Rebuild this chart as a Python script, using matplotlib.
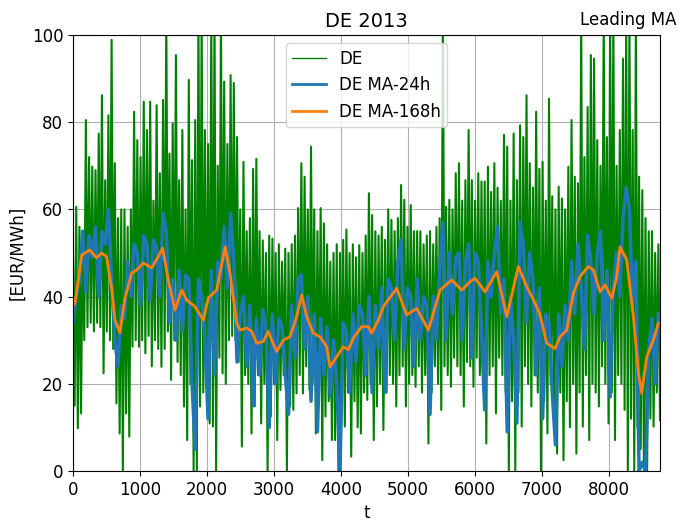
import matplotlib.pyplot as plt
import numpy as np

de_hi = [50, 60.6, 56, 55, 80.5, 72, 69.8, 69, 77.4, 86.2, 66.7, 81.6, 98.9, 70.6, 58, 60, 60, 56, 60, 82.4,
         75.9, 72, 84.7, 78.2, 84.7, 62, 83.9, 68.3, 85.1, 105, 72.8, 79.7, 95.4, 66.7, 78.2, 60, 89.7, 71.3, 80.5, 105,
         105, 78.2, 75, 105, 105, 70, 105, 89.3, 75, 90.8, 89, 76.6, 60, 70.9, 55, 58, 69.3, 71.6, 55, 52.9,
         50, 54, 53.3, 50, 52, 48, 51, 50, 52, 54, 60.3, 70.6, 67.5, 60, 74.4, 60, 55, 60.3, 56.8, 52,
         48, 50, 52, 50, 53, 55.4, 50, 52, 49, 51.8, 50, 54, 63.7, 58.7, 55, 54, 56, 53, 60, 57.6,
         55, 58, 65.6, 62.2, 56, 61, 55, 55, 55, 52, 54, 55, 52, 56, 58, 105, 60.6, 62.2, 60, 68.3,
         70.6, 62, 66.7, 78.2, 66.7, 62, 68.3, 66.4, 66.4, 69.8, 64, 70.6, 65, 62, 77.1, 74.4, 62, 77.4, 66.7, 79.3,
         76.6, 86.2, 70.6, 65, 82.4, 69.3, 70.9, 62, 85.4, 63, 60, 65.2, 62.5, 60, 69.8, 80.5, 67.5, 66, 105, 72,
         83.5, 95.4, 94.6, 75.9, 70, 105, 76.6, 105, 105, 70, 78.2, 94.6, 105, 105, 78.2, 105, 67.5, 64.4, 58, 55,
         55, 50, 52]
de_lo = [15, 9.8, 13.2, 30, 33, 34, 32, 34, 33, 22.4, 32, 30, 28, 15.5, 8.6, 0.2, 13.2, 7.9, 28.5, 30,
         28.5, 30, 27, 31, 24, 30, 28, 23.9, 28, 32, 20.9, 30, 25, 22, 14.8, 7.1, 20, 0, 0, 14.8,
         18, 22, 10.9, 10.2, 0, 26, 22.4, 20, 30, 31, 30, 25, 5.6, 22, 20, 8.6, 14.8, 22, 10.9, 20,
         0, 12.5, 20, 7.1, 18.6, 22, 0, 14.8, 14, 17.8, 22, 17.8, 24, 18.6, 20, 8.6, 18, 2.5, 12.5, 16,
         7.1, 7.1, 0, 15, 10.2, 18, 3.3, 16, 10, 8.6, 18, 16.3, 20, 7.1, 14.8, 20, 9.4, 18, 22, 20,
         14.8, 22, 24, 14.8, 20, 22, 19.3, 24, 18, 22, 6.3, 18, 24, 20, 14, 24, 22, 19.3, 26, 24,
         22, 14.8, 25, 24, 19.3, 26, 22, 20, 6.3, 22, 24, 13.2, 26, 22, 18, 0, 16, 0, 18, 10.2,
         24, 20, 14.8, 22, 18, 0, 16, 8.6, 20, 12, 4, 18, 2.5, 16, 10, 20, 4, 18, 10.2, 22,
         7.1, 20, 18, 14.8, 24, 20, 10.9, 18, 7.1, 22, 20, 14, 0, 12, 0, 10, 5, 0, 0, 12,
         10.2, 18, 11.7]

# 24h moving average, one value every 48h
ma24 = [34, 40, 44, 55, 41, 54, 49, 56, 40, 55, 52, 60, 44, 30, 24, 38, 35, 48, 40, 52,
        50, 38, 54, 52, 39, 53, 51, 40, 59, 55, 34, 44, 30, 46, 32, 45, 44, 20, 5, 44,
        40, 30, 12, 46, 22, 48, 44, 56, 42, 59, 48, 25, 36, 40, 24, 38, 15, 35, 22, 37,
        33, 10, 36, 20, 35, 33, 22, 13, 38, 26, 44, 45, 28, 40, 16, 36, 9, 35, 22, 33,
        17, 30, 20, 0, 34, 32, 18, 36, 25, 38, 36, 22, 40, 18, 38, 28, 42, 18, 44, 42,
        30, 48, 53, 28, 42, 40, 24, 44, 30, 40, 38, 13, 40, 30, 46, 57, 30, 50, 36, 49,
        50, 30, 48, 52, 26, 50, 48, 32, 14, 48, 40, 50, 56, 36, 44, 9, 40, 30, 11, 57,
        52, 34, 50, 44, 22, 42, 12, 36, 34, 18, 6, 36, 24, 38, 30, 48, 36, 52, 42, 28,
        54, 48, 36, 50, 55, 30, 46, 17, 42, 50, 40, 58, 65, 60, 38, 48, 0, 2, 0, 28,
        35, 20, 36]

# 168h moving average
ma168_t = [0, 30, 130, 250, 350, 430, 500, 580, 627, 700, 776, 876, 950, 1050, 1175, 1273, 1338, 1422,
           1522, 1622, 1697, 1820, 1945, 2020, 2145, 2270, 2343, 2443, 2492, 2593, 2667, 2742, 2840, 2915,
           2965, 3040, 3139, 3238, 3338, 3413, 3487, 3587, 3687, 3786, 3836, 3935, 4034, 4109, 4184, 4308,
           4407, 4457, 4557, 4632, 4831, 4980, 5130, 5303, 5478, 5652, 5801, 5925, 6000, 6149, 6323, 6473,
           6646, 6771, 6895, 6970, 7070, 7194, 7269, 7368, 7468, 7567, 7691, 7766, 7866, 7940, 8040, 8114,
           8164, 8264, 8363, 8438, 8488, 8562, 8661, 8736]
ma168_v = [38, 38.5, 49.5, 50.7, 48.9, 50, 49.2, 41.5, 34.6, 31.7, 39.7, 45.4, 46.1, 47.7, 46.6, 49.2, 51.1, 43.8,
           36.9, 41.5, 39.2, 37.7, 34.6, 39.7, 41.5, 51.4, 45.4, 33.9, 32.3, 32.8, 32, 29.3, 29.7, 32,
           30, 27.4, 30, 30.8, 35.4, 40.4, 35.4, 31.6, 30.8, 28.5, 23.9, 26.2, 28.5, 27.8, 30.5, 33.1,
           33.1, 31.6, 34.6, 37.7, 41.9, 35.8, 37.3, 32.3, 41.5, 43.8, 41.5, 43.4, 44.2, 41.1, 45.7, 35.4,
           46.9, 42.3, 38.5, 35.8, 29.3, 28.1, 30.8, 32.3, 40.8, 44.6, 46.9, 46.1, 41.1, 42.7, 39.6, 44.6,
           51.4, 48.4, 35.4, 22.4, 17.8, 26.2, 30, 33.9]

if __name__ == '__main__':
    t_hi = np.arange(len(de_hi)) * 48
    t_lo = np.arange(len(de_lo)) * 48 + 24
    t_de = np.column_stack([t_hi, t_lo]).ravel()
    y_de = np.column_stack([de_hi, de_lo]).ravel()
    t_ma24 = np.arange(len(ma24)) * 48

    plt.rcParams['font.size'] = 12
    fig = plt.figure(figsize=(6.83, 5.21), dpi=100)
    ax = fig.add_axes([73 / 683, 1 - 471 / 521, 587 / 683, 436 / 521])
    ax.plot(t_de, y_de, color='green', lw=1.5, label='DE')
    ax.plot(t_ma24, ma24, color='#1f77b4', lw=2.5, label='DE MA-24h')
    ax.plot(ma168_t, ma168_v, color='#ff7f0e', lw=2, label='DE MA-168h')
    ax.set_xlim(0, 8760)
    ax.set_ylim(0, 100)
    ax.set_xticks(np.arange(0, 8001, 1000))
    ax.set_yticks(np.arange(0, 101, 20))
    ax.grid(True)
    ax.set_title('DE 2013', fontsize=14)
    fig.text(676 / 683, 1 - 20 / 521, 'Leading MA', ha='right', va='center', fontsize=12)
    ax.set_xlabel('t')
    ax.set_ylabel('[EUR/MWh]')
    leg = ax.legend(loc='upper center')
    for line in leg.get_lines():
        line.set_linewidth(2)
    leg.get_lines()[0].set_linewidth(1)
    fig.savefig('out.png')
